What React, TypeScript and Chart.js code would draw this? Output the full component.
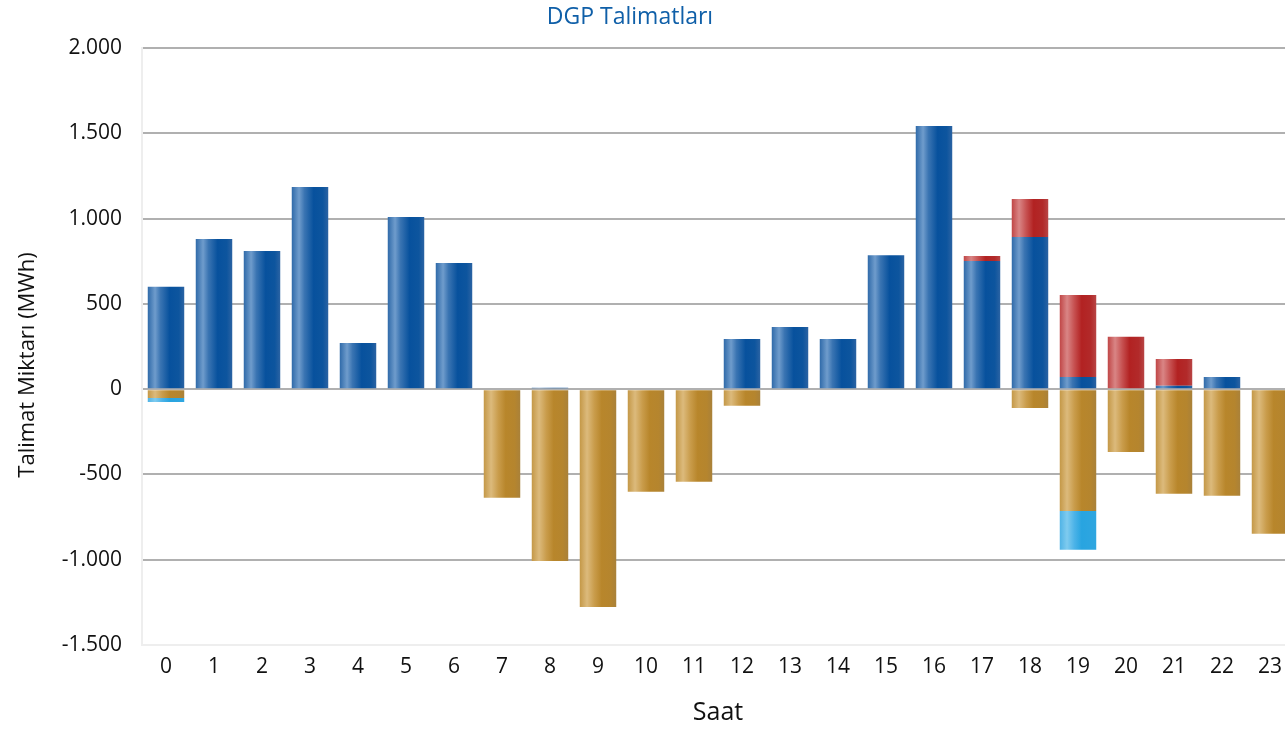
import React, { useEffect, useRef } from "react";
import { Chart, registerables } from "chart.js";

Chart.register(...registerables);

const hours: string[] = ["0","1","2","3","4","5","6","7","8","9","10","11","12","13","14","15","16","17","18","19","20","21","22","23"];
const yukAlma: number[] = [600, 880, 810, 1185, 271, 1009, 740, 0, 8, 0, 0, 0, 294, 364, 294, 785, 1543, 751, 892, 71, 0, 20, 71, 0];
const yukAlmaDiger: number[] = [0, 0, 0, 0, 0, 0, 0, 0, 0, 0, 0, 0, 0, 0, 0, 0, 0, 30, 223, 481, 307, 157, 0, 0];
const yukAtma: number[] = [-52, 0, 0, 0, 0, 0, 0, -637, -1007, -1277, -602, -543, -98, 0, 0, 0, 0, 0, -110, -714, -368, -614, -625, -848];
const yukAtmaDiger: number[] = [-23, 0, 0, 0, 0, 0, 0, 0, 0, 0, 0, 0, 0, 0, 0, 0, 0, 0, 0, -228, 0, 0, 0, 0];

const chartTitle = "DGP Talimatları";
const yTitle = "Talimat Miktarı (MWh)";
const xTitle = "Saat";

const CAT_PCT = 0.76;
const FONT = "'Open Sans', 'Noto Sans', sans-serif";

const blueStops: [number, string][] = [[0, "#2f6aa9"], [0.2, "#6f9ccc"], [0.35, "#3a74b2"], [0.6, "#07519d"], [0.85, "#0d559e"], [1, "#2b63a3"]];
const redStops: [number, string][] = [[0, "#c04646"], [0.2, "#d98585"], [0.4, "#c65050"], [0.6, "#b22222"], [0.85, "#b22a2a"], [1, "#b84545"]];
const goldStops: [number, string][] = [[0, "#c49847"], [0.2, "#dcba7c"], [0.4, "#c99c4b"], [0.6, "#b8862b"], [0.85, "#b5852e"], [1, "#a9813a"]];
const lightStops: [number, string][] = [[0, "#4fb3e6"], [0.2, "#7fcbef"], [0.4, "#4cb3e8"], [0.6, "#28a4e0"], [1, "#2fa6e0"]];

function grad(stops: [number, string][]) {
  return (ctx: any) => {
    const chart = ctx.chart;
    const xs = chart.scales && chart.scales.x;
    if (!xs || !chart.chartArea || ctx.dataIndex === undefined) return stops[3][1];
    const cx = xs.getPixelForValue(ctx.dataIndex);
    const w = (xs.width / hours.length) * CAT_PCT;
    const g = chart.ctx.createLinearGradient(cx - w / 2, 0, cx + w / 2, 0);
    stops.forEach(([o, c]) => g.addColorStop(o, c));
    return g;
  };
}

function fmt(v: number): string {
  const s = Math.abs(v).toString().replace(/\B(?=(\d{3})+(?!\d))/g, ".");
  return (v < 0 ? "-" : "") + s;
}

const titlesPlugin = {
  id: "customTitles",
  afterDraw(chart: any) {
    const c = chart.ctx;
    c.save();
    c.textAlign = "center";
    c.textBaseline = "middle";
    c.fillStyle = "#0f5fa8";
    c.font = `normal 23px ${FONT}`;
    c.fillText(chartTitle, 630, 17);
    c.fillStyle = "#111111";
    c.font = `normal 22px ${FONT}`;
    c.translate(28, 365);
    c.rotate(-Math.PI / 2);
    c.fillText(yTitle, 0, 0);
    c.restore();
  },
};

export default function App() {
  const ref = useRef<HTMLCanvasElement | null>(null);
  useEffect(() => {
    if (!ref.current) return;
    const chart = new Chart(ref.current, {
      type: "bar",
      data: {
        labels: hours,
        datasets: [
          { label: "Yük Alma", data: yukAlma, backgroundColor: grad(blueStops), stack: "s" },
          { label: "Yük Alma (Diğer)", data: yukAlmaDiger, backgroundColor: grad(redStops), stack: "s" },
          { label: "Yük Atma", data: yukAtma, backgroundColor: grad(goldStops), stack: "s" },
          { label: "Yük Atma (Diğer)", data: yukAtmaDiger, backgroundColor: grad(lightStops), stack: "s" },
        ],
      },
      plugins: [titlesPlugin],
      options: {
        animation: false,
        responsive: true,
        maintainAspectRatio: false,
        datasets: { bar: { categoryPercentage: CAT_PCT, barPercentage: 1, borderWidth: 0 } },
        layout: { padding: { left: 0, right: 6, top: 48, bottom: 0 } },
        plugins: {
          legend: { display: false },
          tooltip: { enabled: false },
          title: { display: false },
        },
        scales: {
          x: {
            stacked: true,
            grid: { display: false, drawTicks: false },
            border: { display: true, color: "#eeeeee", width: 2 },
            ticks: { color: "#111111", font: { family: FONT, size: 21 }, padding: 9, maxRotation: 0, autoSkip: false },
            title: { display: true, text: xTitle, color: "#111111", font: { family: FONT, size: 25 }, padding: { top: 0, bottom: 2 } },
            afterFit: (s: any) => { s.height = 85; },
          },
          y: {
            stacked: true,
            min: -1500,
            max: 2000,
            ticks: { stepSize: 500, color: "#111111", font: { family: FONT, size: 21 }, padding: 20, callback: (v: any) => fmt(Number(v)) },
            grid: {
              drawTicks: false,
              lineWidth: 2,
              color: (c: any) => (c.tick && c.tick.value === -1500 ? "#efefef" : "#b0b0b0"),
            },
            border: { display: true, color: "#eeeeee", width: 2 },
            title: { display: false },
            afterFit: (s: any) => { s.width = 142; },
          },
        },
      },
    });
    return () => chart.destroy();
  }, []);
  return (
    <div style={{ position: "fixed", left: 0, top: 0, width: 1285, height: 730, overflow: "hidden", background: "#fff" }}>
      <div style={{ position: "relative", width: 1300, height: 730 }}>
        <canvas ref={ref} />
      </div>
    </div>
  );
}
